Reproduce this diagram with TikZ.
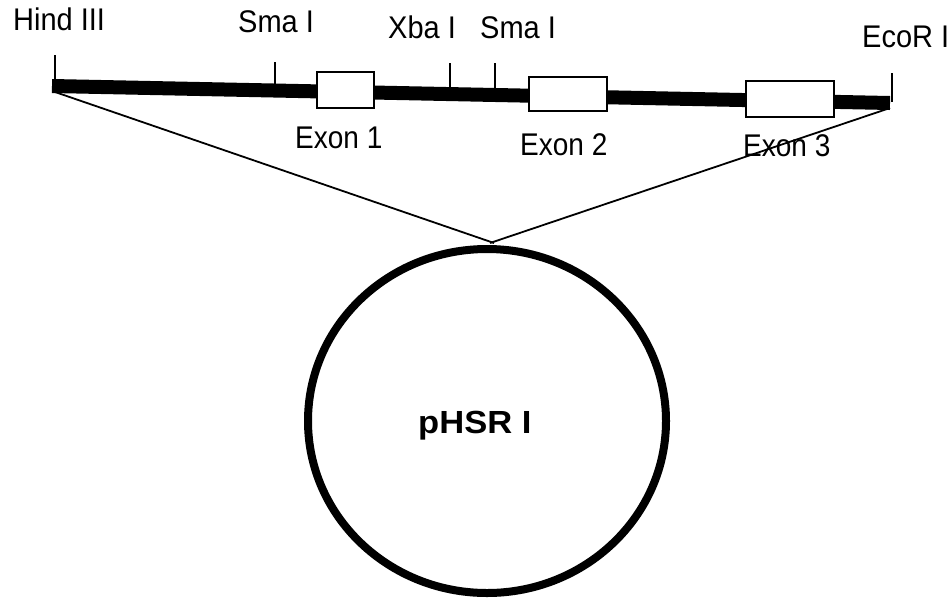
\documentclass[tikz,border=0pt]{standalone}
\usepackage{fontspec}
\usepackage{graphicx}
\setmainfont{Liberation Sans}
\newcommand{\tallsite}[1]{\scalebox{1}[1.08]{#1}}
\newcommand{\tallexon}[1]{\scalebox{1}[1.12]{#1}}
\begin{document}
\begin{tikzpicture}[x=1pt,y=-1pt,
  site/.style={anchor=base west,inner sep=0pt,font=\fontsize{29}{29}\selectfont},
  exlabel/.style={anchor=base west,inner sep=0pt,font=\fontsize{28}{28}\selectfont},
  exonbox/.style={draw,fill=white,line width=1.6pt},
  tick/.style={line width=1.8pt},
  thin/.style={line width=1.8pt}]
\useasboundingbox (0,0) rectangle (952,598);
% restriction site labels
\node[site] (lhind) at (13,30) {\tallsite{Hind III}};
\node[site] (lsma1) at (238,32) {\tallsite{Sma I}};
\node[site] (lxba) at (388,38) {\tallsite{Xba I}};
\node[site] (lsma2) at (480,38) {\tallsite{Sma I}};
\node[site] (leco) at (862,47) {\tallsite{EcoR I}};
% bar ends
\coordinate (L) at (52,86);
\coordinate (R) at (890,103);
\draw[line width=14pt] (L) -- (R);
% ticks
\coordinate (thind) at (55,55); \coordinate (bhind) at (55,86);
\coordinate (tsma1) at (275,62); \coordinate (bsma1) at (275,90);
\coordinate (txba) at (450,63); \coordinate (bxba) at (450,93);
\coordinate (tsma2) at (495,63); \coordinate (bsma2) at (495,94);
\coordinate (teco) at (892,73); \coordinate (beco) at (892,102);
\draw[tick] (thind) -- (bhind);
\draw[tick] (tsma1) -- (bsma1);
\draw[tick] (txba) -- (bxba);
\draw[tick] (tsma2) -- (bsma2);
\draw[tick] (teco) -- (beco);
% exons
\draw[exonbox] (317,72) rectangle (374,108);
\draw[exonbox] (529,77) rectangle (607,111);
\draw[exonbox] (746,81) rectangle (834,117);
\node[exlabel] (ex1) at (295,148) {\tallexon{Exon 1}};
\node[exlabel] (ex2) at (520,155) {\tallexon{Exon 2}};
\node[exlabel] (ex3) at (743,156) {\tallexon{Exon 3}};
% insertion lines
\coordinate (lstart) at (55,92);
\coordinate (rstart) at (890,108);
\coordinate (lend) at (494,243);
\coordinate (rend) at (490,243);
\draw[thin] (lstart) -- (lend);
\draw[thin] (rstart) -- (rend);
% plasmid
\coordinate (C) at (487,421);
\draw[line width=8pt] (C) ellipse [x radius=179, y radius=172];
\node[anchor=base west,inner sep=0pt,font=\bfseries\fontsize{32}{32}\selectfont] (p) at (418,433) {\scalebox{1.08}[1]{pHSR I}};
\end{tikzpicture}
\end{document}
